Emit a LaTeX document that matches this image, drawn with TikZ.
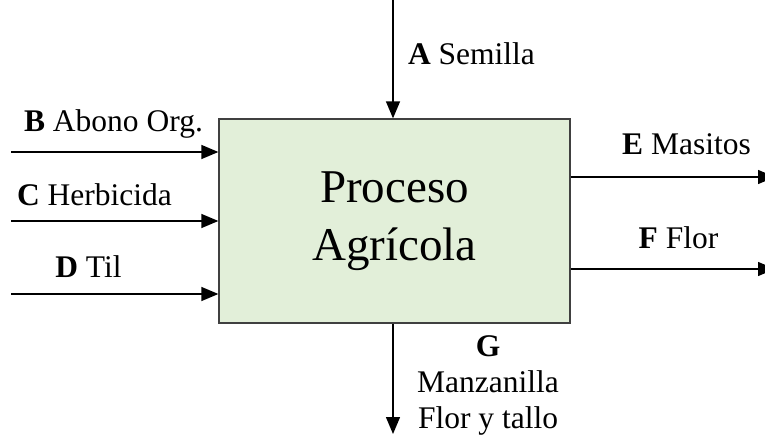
\documentclass[tikz,border=0pt]{standalone}
\usepackage{fontspec}
\setmainfont{Liberation Serif}
\usetikzlibrary{arrows.meta}
\definecolor{boxfill}{HTML}{E2EFD9}
\definecolor{boxline}{HTML}{404040}
\tikzset{
  flow/.style={draw=black, line width=1.4pt, -{Triangle[length=17pt,width=14pt]}},
  procbox/.style={draw=boxline, line width=1.3pt, fill=boxfill, minimum width=351pt,
    minimum height=204pt, inner sep=0pt, align=center, font=\fontsize{47}{58}\selectfont},
  lbl/.style={anchor=base, inner sep=0pt, font=\fontsize{31.5}{37}\selectfont}
}
\begin{document}
\begin{tikzpicture}[x=1pt,y=-1pt]
  \useasboundingbox (0,0) rectangle (765,438);

  % process box
  \node[procbox] (p) at (394.5,221) {Proceso\\Agrícola};

  % free ends of the flows
  \coordinate (a0) at (393,0);
  \coordinate (b0) at (11,152);
  \coordinate (c0) at (11,221);
  \coordinate (d0) at (11,294);
  \coordinate (e1) at (775,177);
  \coordinate (f1) at (775,269);
  \coordinate (g1) at (393,434);

  % inputs
  \draw[flow] (a0) -- (a0 |- p.north);
  \draw[flow] (b0) -- (b0 -| p.west);
  \draw[flow] (c0) -- (c0 -| p.west);
  \draw[flow] (d0) -- (d0 -| p.west);
  % outputs
  \draw[flow] (e1 -| p.east) -- (e1);
  \draw[flow] (f1 -| p.east) -- (f1);
  \draw[flow] (g1 |- p.south) -- (g1);

  % labels
  \node[lbl] (la) at (471.5,65) {\textbf{A} Semilla};
  \node[lbl] (lb) at (113.5,132) {\textbf{B} Abono Org.};
  \node[lbl] (lc) at (94.5,206) {\textbf{C} Herbicida};
  \node[lbl] (ld) at (88.5,277) {\textbf{D} Til};
  \node[lbl] (le) at (686.5,155) {\textbf{E} Masitos};
  \node[lbl] (lf) at (678.5,248) {\textbf{F} Flor};
  \node[lbl] (lg) at (488,356) {\textbf{G}};
  \node[lbl] (lg2) at (488,392) {Manzanilla};
  \node[lbl] (lg3) at (488,428) {Flor y tallo};
\end{tikzpicture}
\end{document}
